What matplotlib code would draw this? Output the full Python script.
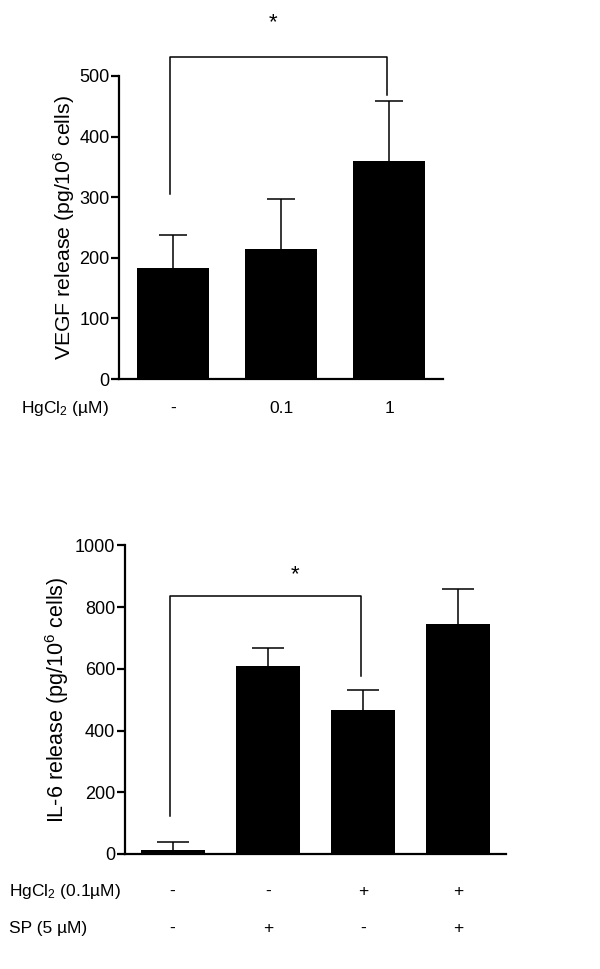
import matplotlib
matplotlib.use("Agg")
import matplotlib.pyplot as plt

plt.rcParams['font.family'] = ['Liberation Sans', 'DejaVu Sans']
plt.rcParams['mathtext.fontset'] = 'custom'
plt.rcParams['mathtext.rm'] = 'Liberation Sans'
plt.rcParams['mathtext.it'] = 'Liberation Sans'

# top panel: VEGF
vegf_groups = ['-', '0.1', '1']
vegf_mean = [183, 214, 360]
vegf_err = [55, 83, 99]

# bottom panel: IL-6
il6_hg = ['-', '-', '+', '+']
il6_sp = ['-', '+', '-', '+']
il6_mean = [13, 609, 465, 745]
il6_err = [26, 57, 67, 115]

FS = 12.5
W, H = 600, 969


def style_axes(ax, ymax, step):
    for s in ['top', 'right']:
        ax.spines[s].set_visible(False)
    ax.spines['left'].set_linewidth(1.6)
    ax.spines['bottom'].set_linewidth(1.6)
    ax.set_ylim(0, ymax)
    ax.set_yticks(range(0, ymax + 1, step))
    ax.tick_params(axis='y', length=6, width=1.6, labelsize=13, pad=1)
    ax.tick_params(axis='x', length=0, labelbottom=False)


def upper_errbars(ax, x, mean, err, cap):
    eb = ax.errorbar(x, mean, yerr=[[0] * len(err), err], fmt='none', ecolor='black',
                     elinewidth=1.1, capsize=cap, capthick=1.1)
    eb[1][0].set_visible(False)  # no cap at bar top


def bracket(ax, x0, x1, y0, ytop, y1):
    ax.plot([x0, x0, x1, x1], [y0, ytop, ytop, y1], color='black', lw=1.1, clip_on=False)


fig = plt.figure(figsize=(6, 9.69), dpi=100)

# ---- top ----
ax1 = fig.add_axes([119.3 / W, 1 - 379 / H, (443 - 119.3) / W, (379 - 76) / H])
x1 = range(len(vegf_mean))
ax1.bar(x1, vegf_mean, width=0.67, color='black')
upper_errbars(ax1, x1, vegf_mean, vegf_err, 10)
ax1.set_xlim(-0.5, 2.5)
style_axes(ax1, 500, 100)
ax1.set_ylabel('VEGF release (pg/10$^{6}$ cells)', fontsize=15.3)
ax1.yaxis.set_label_coords(-0.132, 0.5)
bracket(ax1, -0.03, 1.98, 306, 532, 469)
ax1.text(0.92, 588, '*', fontsize=16, ha='center', va='center', clip_on=False)
ax1.text(-0.5 - 98.6 / 107.8, -48, 'HgCl$_2$ (µM)', fontsize=FS, ha='left', va='center', clip_on=False)
for i, g in enumerate(vegf_groups):
    ax1.text(i, -48, g, fontsize=FS, ha='center', va='center', clip_on=False)

# ---- bottom ----
ax2 = fig.add_axes([125 / W, 1 - 854 / H, (506 - 125) / W, (854 - 545.3) / H])
x2 = range(len(il6_mean))
ax2.bar(x2, il6_mean, width=0.67, color='black')
upper_errbars(ax2, x2, il6_mean, il6_err, 11.5)
ax2.set_xlim(-0.5, 3.5)
style_axes(ax2, 1000, 200)
ax2.set_ylabel('IL-6 release (pg/10$^{6}$ cells)', fontsize=15.5)
ax2.yaxis.set_label_coords(-0.142, 0.5)
bracket(ax2, -0.03, 1.98, 123, 835, 576)
ax2.text(1.28, 905, '*', fontsize=16, ha='center', va='center', clip_on=False)
lx = -0.5 - (125 - 9.3) / 95.1
ax2.text(lx, -122, 'HgCl$_2$ (0.1µM)', fontsize=FS, ha='left', va='center', clip_on=False)
ax2.text(lx, -240, 'SP (5 µM)', fontsize=FS, ha='left', va='center', clip_on=False)
for i in range(len(il6_mean)):
    ax2.text(i, -122, il6_hg[i], fontsize=FS, ha='center', va='center', clip_on=False)
    ax2.text(i, -240, il6_sp[i], fontsize=FS, ha='center', va='center', clip_on=False)

fig.savefig('out.png', dpi=100)
